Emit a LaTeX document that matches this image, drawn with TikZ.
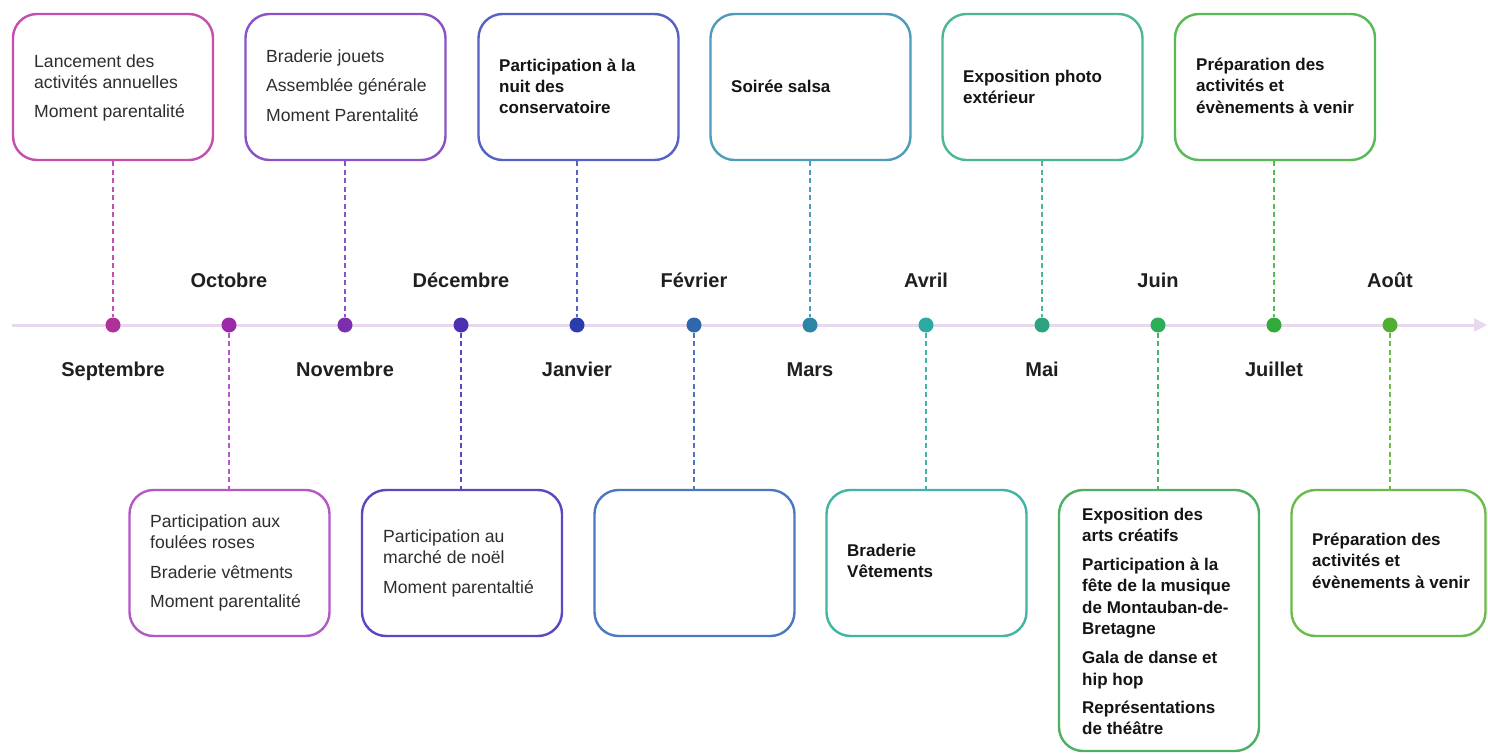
\documentclass[tikz,border=0pt]{standalone}
\usepackage{fontspec}
\setmainfont{Liberation Sans}
\usetikzlibrary{arrows.meta}
\definecolor{c1}{HTML}{C54FAE}
\definecolor{c2}{HTML}{B457C8}
\definecolor{c3}{HTML}{8A52C8}
\definecolor{c4}{HTML}{5A48C2}
\definecolor{c5}{HTML}{5661C4}
\definecolor{c6}{HTML}{4C78C0}
\definecolor{c7}{HTML}{4F9CBA}
\definecolor{c8}{HTML}{40B5A6}
\definecolor{c9}{HTML}{4CB892}
\definecolor{c10}{HTML}{4DB064}
\definecolor{c11}{HTML}{57BA55}
\definecolor{c12}{HTML}{6CBB4A}
\definecolor{k1}{HTML}{B0309A}
\definecolor{k2}{HTML}{9A2AA8}
\definecolor{k3}{HTML}{7B2FAE}
\definecolor{k4}{HTML}{4A2FB0}
\definecolor{k5}{HTML}{2B3CAC}
\definecolor{k6}{HTML}{2F67AC}
\definecolor{k7}{HTML}{2D85A6}
\definecolor{k8}{HTML}{2BA9A3}
\definecolor{k9}{HTML}{2BA47F}
\definecolor{k10}{HTML}{2CAD58}
\definecolor{k11}{HTML}{30AA3A}
\definecolor{k12}{HTML}{52AE30}
\definecolor{axiscol}{HTML}{E7D8EE}
\begin{document}
\begin{tikzpicture}[x=1pt,y=-1pt,
 card/.style={draw=#1, line width=2.4pt, rounded corners=24pt, minimum width=200pt, minimum height=146pt, inner sep=0pt, fill=white},
 dotn/.style={circle, fill=#1, inner sep=0pt, minimum size=15pt},
 link/.style={draw=#1, line width=1.6pt, dash pattern=on 5pt off 3.5pt},
 month/.style={font=\fontsize{20}{22}\selectfont\bfseries, text=black!88, inner sep=0pt, anchor=base},
 txt/.style={anchor=north west, align=left, inner sep=0pt, font=\fontsize{17.6}{21.5}\selectfont, text=black!82},
 btxt/.style={anchor=north west, align=left, inner sep=0pt, font=\fontsize{17}{21.3}\selectfont\bfseries, text=black!92}]
\useasboundingbox (0,0) rectangle (1488,754);
\fill[white] (0,0) rectangle (1488,754);

% axis
\coordinate (axs) at (12,325);
\coordinate (axe) at (1487,325);
\draw[axiscol, line width=3pt, -{Triangle[length=13pt,width=13pt]}] (axs) -- (axe);

% dots
\node[dotn=k1] (d1) at (113,325) {};
\node[dotn=k2] (d2) at (229,325) {};
\node[dotn=k3] (d3) at (345,325) {};
\node[dotn=k4] (d4) at (461,325) {};
\node[dotn=k5] (d5) at (577,325) {};
\node[dotn=k6] (d6) at (694,325) {};
\node[dotn=k7] (d7) at (810,325) {};
\node[dotn=k8] (d8) at (926,325) {};
\node[dotn=k9] (d9) at (1042,325) {};
\node[dotn=k10] (d10) at (1158,325) {};
\node[dotn=k11] (d11) at (1274,325) {};
\node[dotn=k12] (d12) at (1390,325) {};

% boxes
\node[card=c1] (b1) at (113,87) {};
\node[card=c3] (b3) at (345.5,87) {};
\node[card=c5] (b5) at (578.5,87) {};
\node[card=c7] (b7) at (810.5,87) {};
\node[card=c9] (b9) at (1042.5,87) {};
\node[card=c11] (b11) at (1275,87) {};
\node[card=c2] (b2) at (229.5,563) {};
\node[card=c4] (b4) at (462,563) {};
\node[card=c6] (b6) at (694.5,563) {};
\node[card=c8] (b8) at (926.5,563) {};
\node[card=c10, minimum height=261pt] (b10) at (1159,620.5) {};
\node[card=c12, minimum width=194pt] (b12) at (1388.5,563) {};

% connectors
\draw[link=c1] (b1.south -| d1) -- (d1.north);
\draw[link=c3] (b3.south -| d3) -- (d3.north);
\draw[link=c5] (b5.south -| d5) -- (d5.north);
\draw[link=c7] (b7.south -| d7) -- (d7.north);
\draw[link=c9] (b9.south -| d9) -- (d9.north);
\draw[link=c11] (b11.south -| d11) -- (d11.north);
\draw[link=c2] (d2.south) -- (b2.north -| d2);
\draw[link=c4] (d4.south) -- (b4.north -| d4);
\draw[link=c6] (d6.south) -- (b6.north -| d6);
\draw[link=c8] (d8.south) -- (b8.north -| d8);
\draw[link=c10] (d10.south) -- (b10.north -| d10);
\draw[link=c12] (d12.south) -- (b12.north -| d12);

% month labels
\node[month] (m1) at (113,376) {Septembre};
\node[month] (m2) at (229,287) {Octobre};
\node[month] (m3) at (345,376) {Novembre};
\node[month] (m4) at (461,287) {Décembre};
\node[month] (m5) at (577,376) {Janvier};
\node[month] (m6) at (694,287) {Février};
\node[month] (m7) at (810,376) {Mars};
\node[month] (m8) at (926,287) {Avril};
\node[month] (m9) at (1042,376) {Mai};
\node[month] (m10) at (1158,287) {Juin};
\node[month] (m11) at (1274,376) {Juillet};
\node[month] (m12) at (1390,287) {Août};

% box texts
\node[txt] (t1) at (34,54.5) {Lancement des\\activités annuelles\\[7pt]Moment parentalité};
\node[txt] (t3) at (266,49.5) {Braderie jouets\\[8pt]Assemblée générale\\[8pt]Moment Parentalité};
\node[btxt] (t5) at (499,58.5) {Participation à la\\nuit des\\conservatoire};
\node[btxt] (t7) at (731,79.5) {Soirée salsa};
\node[btxt] (t9) at (963,69.5) {Exposition photo\\extérieur};
\node[btxt] (t11) at (1196,58) {Préparation des\\activités et\\évènements à venir};
\node[txt] (t2) at (150,514.5) {Participation aux\\foulées roses\\[8pt]Braderie vêtments\\[8pt]Moment parentalité};
\node[txt] (t4) at (383,529.5) {Participation au\\marché de noël\\[8pt]Moment parentaltié};
\node[btxt] (t8) at (847,543.5) {Braderie\\Vêtements};
\node[btxt] (t10) at (1082,507.5) {Exposition des\\arts créatifs\\[8pt]Participation à la\\fête de la musique\\de Montauban-de-\\Bretagne\\[8pt]Gala de danse et\\hip hop\\[7pt]Représentations\\de théâtre};
\node[btxt] (t12) at (1312,533) {Préparation des\\activités et\\évènements à venir};
\end{tikzpicture}
\end{document}
